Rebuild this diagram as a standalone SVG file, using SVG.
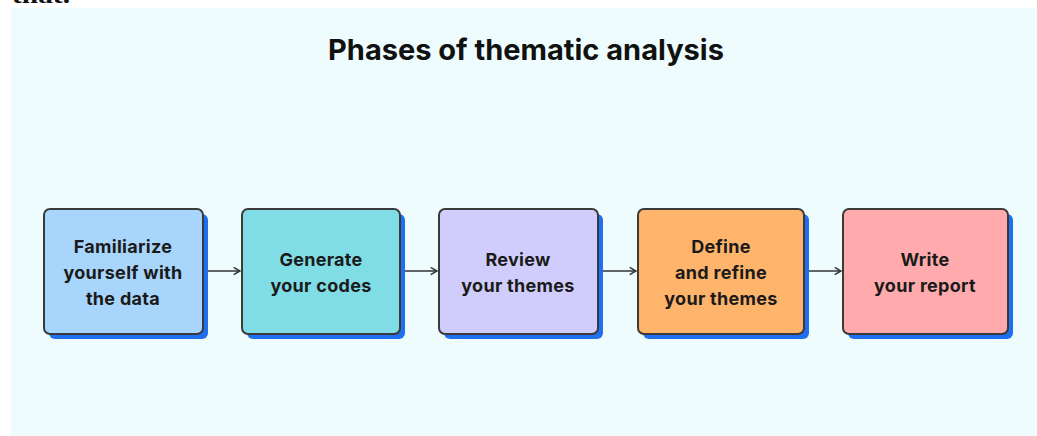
<svg xmlns="http://www.w3.org/2000/svg" width="1037" height="436" viewBox="0 0 1037 436">
  <style>
    .panel { fill: #EEFCFD; }
    .title { font-family: Inter, "Liberation Sans", sans-serif; font-weight: 700; font-size: 29px; fill: #111; text-anchor: middle; }
    .label { font-family: Inter, "Liberation Sans", sans-serif; font-weight: 700; font-size: 18px; fill: #1a1a1a; text-anchor: middle; letter-spacing: 0.3px; }
    .shadow { fill: #1F6FEF; }
    .box { stroke: #3a3a3a; stroke-width: 2; }
    .conn { stroke: #333; stroke-width: 1.6; fill: none; }
    .clip { font-family: "Liberation Serif", serif; font-weight: 700; font-size: 24px; fill: #111; }
  </style>
  <defs>
    <marker id="arrow" viewBox="0 0 10 10" refX="9" refY="5" markerWidth="9" markerHeight="9" markerUnits="userSpaceOnUse" orient="auto">
      <path d="M2,1 L9,5 L2,9" fill="none" stroke="#333" stroke-width="1.6"/>
    </marker>
  </defs>

  <rect width="1037" height="436" fill="#ffffff"/>
  <!-- tail of the preceding paragraph, clipped by the top edge -->
  <text class="clip" x="12" y="3" textLength="58" lengthAdjust="spacingAndGlyphs">that.</text>
  <rect class="panel" x="11" y="8" width="1026" height="428"/>

  <text class="title" x="526" y="60">Phases of thematic analysis</text>

  <g id="connectors">
    <line class="conn" x1="203" y1="271" x2="240" y2="271" marker-end="url(#arrow)"/>
    <line class="conn" x1="400" y1="271" x2="437" y2="271" marker-end="url(#arrow)"/>
    <line class="conn" x1="598" y1="271" x2="636" y2="271" marker-end="url(#arrow)"/>
    <line class="conn" x1="804" y1="271" x2="841" y2="271" marker-end="url(#arrow)"/>
  </g>

  <g id="familiarize">
    <rect class="shadow" x="49" y="214" width="159" height="125" rx="6"/>
    <rect class="box" x="44" y="209" width="159" height="125" rx="6" fill="#A8D5FB"/>
    <text class="label" x="123" y="253">Familiarize</text>
    <text class="label" x="123" y="279">yourself with</text>
    <text class="label" x="123" y="305">the data</text>
  </g>

  <g id="generate">
    <rect class="shadow" x="247" y="214" width="158" height="125" rx="6"/>
    <rect class="box" x="242" y="209" width="158" height="125" rx="6" fill="#80DDE6"/>
    <text class="label" x="321" y="266">Generate</text>
    <text class="label" x="321" y="292">your codes</text>
  </g>

  <g id="review">
    <rect class="shadow" x="444" y="214" width="159" height="125" rx="6"/>
    <rect class="box" x="439" y="209" width="159" height="125" rx="6" fill="#D0CDFC"/>
    <text class="label" x="518" y="266">Review</text>
    <text class="label" x="518" y="292">your themes</text>
  </g>

  <g id="define">
    <rect class="shadow" x="643" y="214" width="166" height="125" rx="6"/>
    <rect class="box" x="638" y="209" width="166" height="125" rx="6" fill="#FFB46C"/>
    <text class="label" x="721" y="253">Define</text>
    <text class="label" x="721" y="279">and refine</text>
    <text class="label" x="721" y="305">your themes</text>
  </g>

  <g id="write">
    <rect class="shadow" x="848" y="214" width="165" height="125" rx="6"/>
    <rect class="box" x="843" y="209" width="165" height="125" rx="6" fill="#FFABAE"/>
    <text class="label" x="925" y="266">Write</text>
    <text class="label" x="925" y="292">your report</text>
  </g>
</svg>
